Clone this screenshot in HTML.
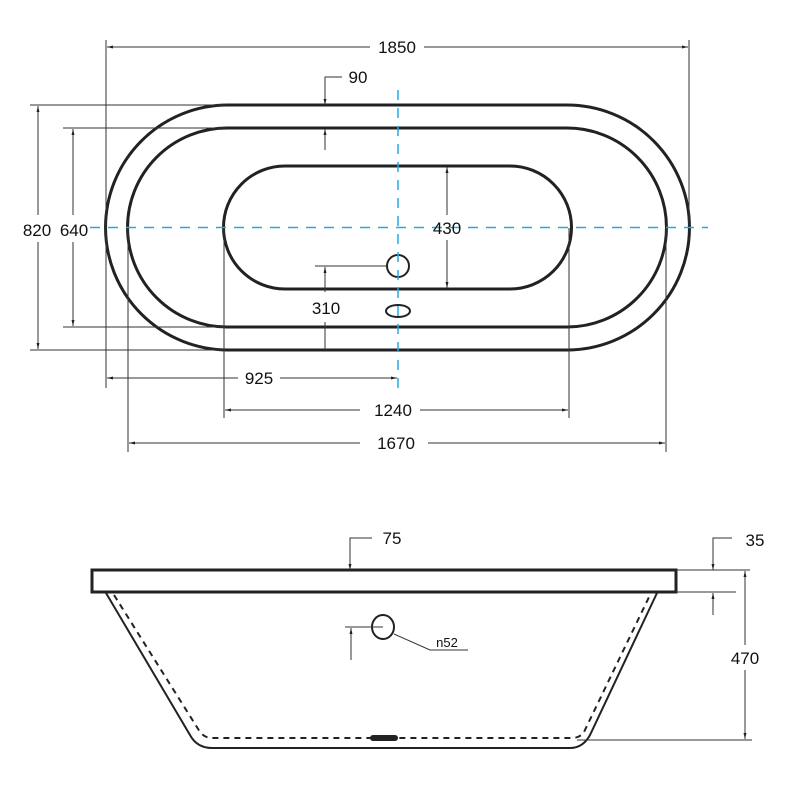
<!DOCTYPE html>
<html><head><style>body{margin:0;background:#fff}svg{display:block}</style></head><body>
<svg width="790" height="792" viewBox="0 0 790 792" xmlns="http://www.w3.org/2000/svg" font-family="Liberation Sans, Arial, sans-serif">
<defs>
<marker id="a" markerWidth="6" markerHeight="6" refX="6" refY="3" orient="auto" markerUnits="userSpaceOnUse"><path d="M0,1.5 L6,3 L0,4.5Z" fill="#222"/></marker>
</defs>
<g fill="none" stroke="#222" stroke-width="3">
<path d="M228,105 H567 A122.5,122.5 0 0 1 567,350 H228 A122.5,122.5 0 0 1 228,105Z"/>
<path d="M227,128 H567 A99.5,99.5 0 0 1 567,327 H227 A99.5,99.5 0 0 1 227,128Z"/>
<path d="M285,166 H510 A61.5,61.5 0 0 1 510,289 H285 A61.5,61.5 0 0 1 285,166Z"/>
</g>
<g fill="none" stroke="#222" stroke-width="2">
<circle cx="398" cy="266" r="11"/>
<ellipse cx="398" cy="311" rx="12" ry="6"/>
</g>
<g stroke="#29a8e0" stroke-width="1.5" stroke-dasharray="10,8">
<line x1="398" y1="90" x2="398" y2="388"/>
<line x1="90" y1="227.5" x2="708" y2="227.5"/>
</g>
<g stroke="#333" stroke-width="1" fill="none">
<line x1="106" y1="40" x2="106" y2="388"/><line x1="689" y1="40" x2="689" y2="225"/>
<line x1="370" y1="47" x2="107" y2="47" marker-end="url(#a)"/><line x1="424" y1="47" x2="688" y2="47" marker-end="url(#a)"/>
<line x1="30" y1="105" x2="225" y2="105"/><line x1="30" y1="350" x2="225" y2="350"/>
<line x1="38" y1="215" x2="38" y2="106" marker-end="url(#a)"/><line x1="38" y1="242" x2="38" y2="349" marker-end="url(#a)"/>
<line x1="63" y1="128" x2="225" y2="128"/><line x1="63" y1="327" x2="225" y2="327"/>
<line x1="73" y1="215" x2="73" y2="129" marker-end="url(#a)"/><line x1="73" y1="242" x2="73" y2="326" marker-end="url(#a)"/>
<polyline points="342,77 325,77 325,104"/><line x1="325" y1="104" x2="325" y2="105" marker-end="url(#a)"/>
<line x1="325" y1="150" x2="325" y2="129" marker-end="url(#a)"/>
<line x1="315" y1="266" x2="386" y2="266"/>
<line x1="325" y1="292" x2="325" y2="267" marker-end="url(#a)"/><line x1="325" y1="322" x2="325" y2="350"/>
<line x1="447" y1="215" x2="447" y2="167" marker-end="url(#a)"/><line x1="447" y1="240" x2="447" y2="288" marker-end="url(#a)"/>
<line x1="238" y1="378" x2="107" y2="378" marker-end="url(#a)"/><line x1="280" y1="378" x2="397" y2="378" marker-end="url(#a)"/>
<line x1="224" y1="228" x2="224" y2="418"/><line x1="569" y1="228" x2="569" y2="418"/>
<line x1="360" y1="410" x2="225" y2="410" marker-end="url(#a)"/><line x1="420" y1="410" x2="568" y2="410" marker-end="url(#a)"/>
<line x1="128" y1="228" x2="128" y2="452"/><line x1="666" y1="228" x2="666" y2="452"/>
<line x1="360" y1="443" x2="129" y2="443" marker-end="url(#a)"/><line x1="428" y1="443" x2="665" y2="443" marker-end="url(#a)"/>
</g>
<g font-size="17" fill="#111" text-anchor="middle">
<text x="397" y="53">1850</text><text x="358" y="83">90</text>
<text x="37" y="236">820</text><text x="74" y="236">640</text>
<text x="447" y="234">430</text><text x="326" y="314">310</text>
<text x="259" y="384">925</text><text x="393" y="416">1240</text><text x="396" y="449">1670</text>
</g>
<!-- side view -->
<rect x="92" y="570" width="584" height="22" fill="none" stroke="#222" stroke-width="3"/>
<path d="M106,593 L190,735 Q197,748 212,748 L570,748 Q583,748 590,735 L657,593" fill="none" stroke="#222" stroke-width="2"/>
<path d="M114,595 L200,732 Q205,738 212,738 L572,738 Q580,738 584,732 L650,595" fill="none" stroke="#222" stroke-width="2" stroke-dasharray="6,5"/>
<rect x="370" y="735" width="28" height="6" rx="3" fill="#222"/>
<ellipse cx="383" cy="627" rx="11" ry="12" fill="none" stroke="#222" stroke-width="2"/>
<g stroke="#333" stroke-width="1" fill="none">
<polyline points="394,634 430,650 468,650"/>
<line x1="345" y1="627" x2="383" y2="627"/>
<line x1="351" y1="660" x2="351" y2="628" marker-end="url(#a)"/>
<polyline points="372,538 350,538 350,569"/><line x1="350" y1="568" x2="350" y2="570" marker-end="url(#a)"/>
<polyline points="732,538 713,538 713,569"/><line x1="713" y1="568" x2="713" y2="570" marker-end="url(#a)"/>
<line x1="713" y1="615" x2="713" y2="593" marker-end="url(#a)"/>
<line x1="676" y1="570" x2="750" y2="570"/><line x1="676" y1="592" x2="736" y2="592"/>
<line x1="577" y1="740" x2="752" y2="740"/>
<line x1="745" y1="645" x2="745" y2="571" marker-end="url(#a)"/><line x1="745" y1="670" x2="745" y2="739" marker-end="url(#a)"/>
</g>
<g font-size="17" fill="#111" text-anchor="middle">
<text x="392" y="544">75</text><text x="755" y="546">35</text><text x="745" y="664">470</text>
<text x="447" y="647" font-size="13">n52</text>
</g>
</svg>
</body></html>
